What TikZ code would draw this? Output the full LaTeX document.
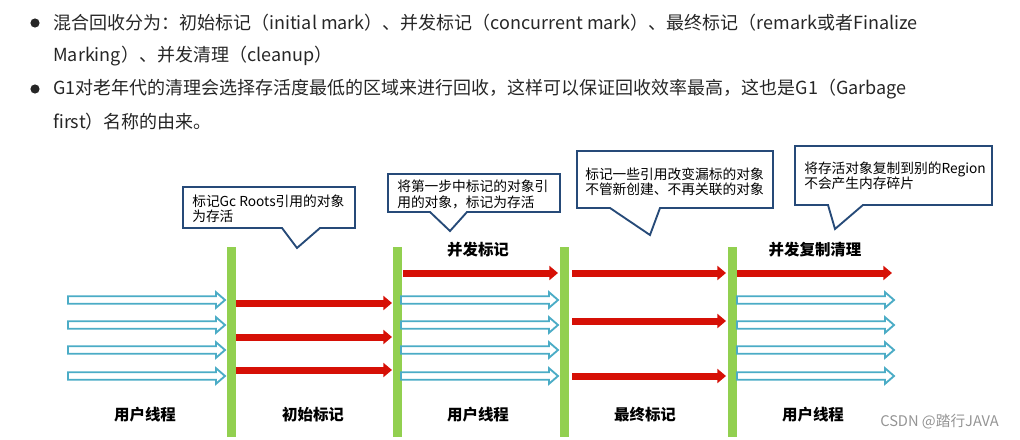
\documentclass[tikz,border=0pt]{standalone}
\usepackage{fontspec}
\setmainfont{Noto Sans CJK SC}
\usetikzlibrary{arrows.meta}
\definecolor{barGreen}{RGB}{146,208,80}
\definecolor{markRed}{RGB}{214,16,6}
\definecolor{userBlue}{RGB}{75,172,198}
\definecolor{tipBlue}{RGB}{38,74,120}
\definecolor{bodyGray}{RGB}{38,38,38}
\tikzset{
bar/.style={fill=barGreen, minimum width=6.75pt, minimum height=142.5pt, inner sep=0pt}, % green pause bars
markline/.style={draw=markRed, line width=5.25pt, -{Triangle[length=6.5pt,width=10.5pt]}}, % GC threads
userline/.style={draw=userBlue, line width=1.4pt, fill=white, line join=miter}, % user threads
bubble/.style={draw=tipBlue, line width=1.4pt, fill=white, line join=miter},
bubbletext/.style={anchor=west, align=left, inner sep=0pt, font=\fontsize{10.3}{11.4}\selectfont},
phase/.style={inner sep=0pt, font=\fontsize{11.6}{14}\selectfont\bfseries},
bullettext/.style={anchor=west, inner sep=0pt, text=bodyGray, font=\fontsize{13.5}{16}\selectfont},
}
\begin{document}
\begin{tikzpicture}[x=0.75pt, y=-0.75pt]
\useasboundingbox (0,0) rectangle (1020,439);
% bullet list
\fill[bodyGray] (35,23) circle (4.6) (35,89) circle (4.6);
\node[bullettext] (l1) at (53,23) {混合回收分为：初始标记（initial mark）、并发标记（concurrent mark）、最终标记（remark或者Finalize};
\node[bullettext] (l2) at (53,56) {Marking）、并发清理（cleanup）};
\node[bullettext] (l3) at (53,89) {G1对老年代的清理会选择存活度最低的区域来进行回收，这样可以保证回收效率最高，这也是G1（Garbage};
\node[bullettext] (l4) at (53,122) {first）名称的由来。};

% callouts
\draw[bubble] (183,187) -- (355,187) -- (355,228) -- (320,228) -- (297,248) -- (282,228) -- (183,228) -- cycle;
\node[bubbletext] (t1) at (192,209) {标记Gc Roots引用的对象\\为存活};
\draw[bubble] (388,174) -- (560,174) -- (560,212) -- (467,212) -- (450,231) -- (430,212) -- (388,212) -- cycle;
\node[bubbletext] (t2) at (397,194.5) {将第一步中标记的对象引\\用的对象，标记为存活};
\draw[bubble] (577,151) -- (773,151) -- (773,208) -- (660,208) -- (650,235) -- (610,208) -- (577,208) -- cycle;
\node[bubbletext] (t3) at (585,181.5) {标记一些引用改变漏标的对象\\不管新创建、不再关联的对象};
\draw[bubble] (795,146) -- (992,146) -- (992,205) -- (863,205) -- (835,229) -- (828,205) -- (795,205) -- cycle;
\node[bubbletext] (t4) at (804,175.5) {将存活对象复制到别的Region\\不会产生内存碎片};

% pause bars
\node[bar] (g1) at (231.5,342) {};
\node[bar] (g2) at (397,342) {};
\node[bar] (g3) at (564.5,342) {};
\node[bar] (g4) at (732,342) {};

% user threads
\foreach \a/\b/\y in {68/225/300, 68/225/325, 68/225/350, 68/225/376,
401/558/300, 401/558/325, 401/558/350, 401/558/376,
737/894/300, 737/894/325, 737/894/350, 737/894/376}
\draw[userline] (\a,\y-3.8) -- (\b-9,\y-3.8) -- (\b-9,\y-7.8) -- (\b,\y) -- (\b-9,\y+7.8) -- (\b-9,\y+3.8) -- (\a,\y+3.8) -- cycle;

% gc threads
\foreach \a/\b/\y in {236/392/303, 236/392/337, 236/392/370,
403/558/273,
572/726/273, 572/726/321, 572/726/376,
737/892/273}
\draw[markline] (\a,\y) -- (\b,\y);

% phase names
\node[phase] (p1) at (145,415) {用户线程};
\node[phase] (p2) at (313,415) {初始标记};
\node[phase] (p3) at (478,415) {用户线程};
\node[phase] (p4) at (645,415) {最终标记};
\node[phase] (p5) at (813,415) {用户线程};
\node[phase] (p6) at (478,250) {并发标记};
\node[phase] (p7) at (815,250) {并发复制清理};
\node[anchor=west, inner sep=0pt, text=black!42, font=\fontsize{11}{13}\selectfont] (wm) at (880,422) {CSDN @踏行JAVA};
\end{tikzpicture}
\end{document}
